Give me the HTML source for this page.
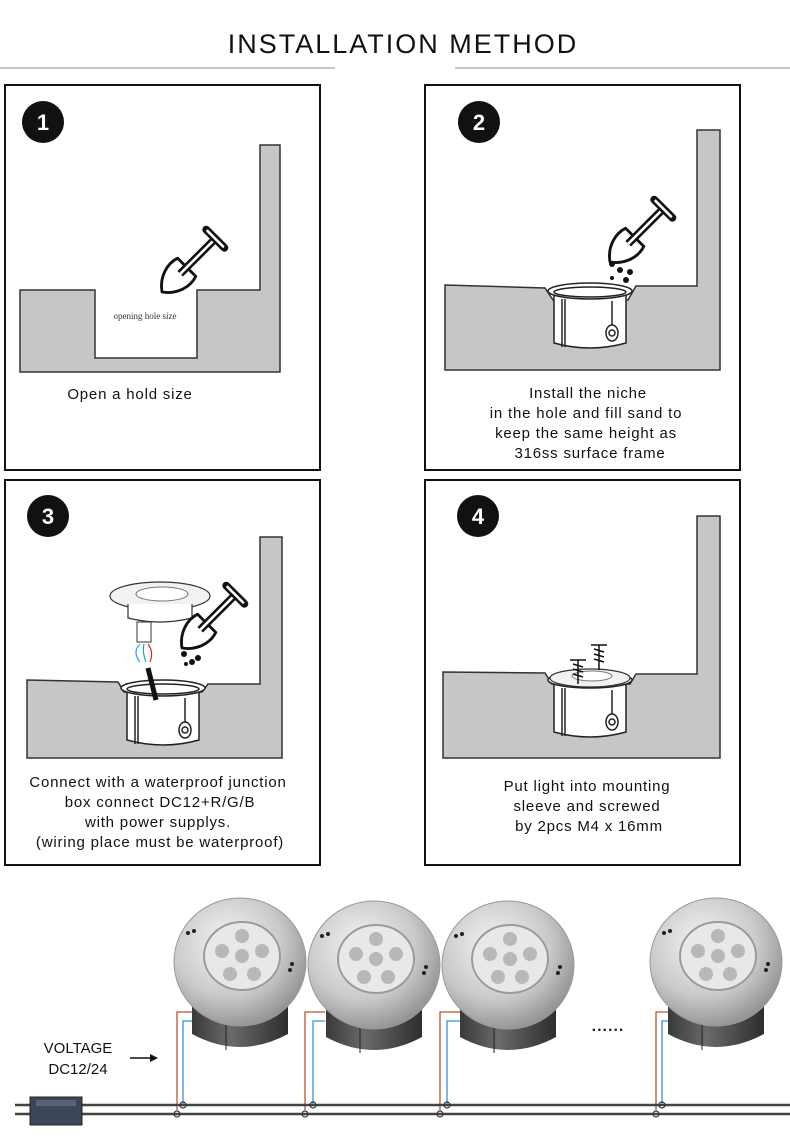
<!DOCTYPE html>
<html><head><meta charset="utf-8"><style>
html,body{margin:0;padding:0;background:#fff;}
svg{display:block;}
text{font-family:"Liberation Sans",sans-serif;}
</style></head><body>
<svg width="790" height="1148" viewBox="0 0 790 1148" xmlns="http://www.w3.org/2000/svg">
<defs>
  <g id="shovel" fill="#fff" stroke="#111" stroke-width="2.2" stroke-linejoin="round">
    <path d="M0,0 C-2,-12 4,-22 12,-26 L26,-12 C22,-4 12,2 0,0 Z"/>
    <path d="M14,-14 L40,-40" stroke-width="6"/>
    <path d="M14,-14 L40,-40" stroke="#fff" stroke-width="2"/>
    <path d="M34,-48 L48,-34" stroke-width="6" stroke-linecap="round"/>
    <path d="M35,-47 L47,-35" stroke="#fff" stroke-width="2" stroke-linecap="round"/>
  </g>
  <g id="niche" stroke="#222" stroke-width="1.5" fill="#fff">
    <path d="M-36,2 L-36,52 Q0,62 36,52 L36,2 Z"/>
    <ellipse cx="0" cy="0" rx="42" ry="8"/>
    <ellipse cx="0" cy="1" rx="36" ry="5" fill="none"/>
    <line x1="-28" y1="8" x2="-28" y2="56"/>
    <line x1="-25" y1="8" x2="-25" y2="56"/>
    <line x1="22" y1="10" x2="22" y2="36"/>
    <ellipse cx="22" cy="42" rx="6" ry="8"/>
    <circle cx="22" cy="42" r="3"/>
  </g>
  <radialGradient id="steel" cx="0.4" cy="0.35" r="0.7">
    <stop offset="0" stop-color="#f4f4f4"/><stop offset="0.6" stop-color="#c9c9c9"/><stop offset="1" stop-color="#8d8d8d"/>
  </radialGradient>
  <linearGradient id="body" x1="0" x2="1">
    <stop offset="0" stop-color="#3a3a3a"/><stop offset="0.4" stop-color="#6a6a6a"/><stop offset="1" stop-color="#2e2e2e"/>
  </linearGradient>
  <g id="lamp">
    <path d="M-48,20 L-48,72 Q0,98 48,72 L48,20 Z" fill="url(#body)"/>
    <line x1="-14" y1="30" x2="-14" y2="88" stroke="#222" stroke-width="1"/>
    <ellipse cx="0" cy="0" rx="66" ry="64" fill="url(#steel)" stroke="#999" stroke-width="1"/>
    <ellipse cx="2" cy="-6" rx="38" ry="34" fill="#e8e8e8" stroke="#9a9a9a" stroke-width="2"/>
    <circle cx="2" cy="-6" r="7" fill="#b8b8b8"/>
    <circle cx="2" cy="-26" r="7" fill="#b8b8b8"/>
    <circle cx="-18" cy="-11" r="7" fill="#b8b8b8"/>
    <circle cx="22" cy="-11" r="7" fill="#b8b8b8"/>
    <circle cx="-10" cy="12" r="7" fill="#b8b8b8"/>
    <circle cx="14" cy="12" r="7" fill="#b8b8b8"/>
    <circle cx="-52" cy="-29" r="2" fill="#222"/><circle cx="-46" cy="-31" r="2" fill="#222"/>
    <circle cx="50" cy="8" r="2" fill="#222"/><circle cx="52" cy="2" r="2" fill="#222"/>
  </g>
</defs>

<text x="403" y="53" font-size="27" text-anchor="middle" letter-spacing="2" fill="#111">INSTALLATION METHOD</text>
<line x1="0" y1="68" x2="335" y2="68" stroke="#888" stroke-width="1"/>
<line x1="455" y1="68" x2="790" y2="68" stroke="#888" stroke-width="1"/>

<g fill="none" stroke="#111" stroke-width="2">
  <rect x="5" y="85" width="315" height="385"/>
  <rect x="425" y="85" width="315" height="385"/>
  <rect x="5" y="480" width="315" height="385"/>
  <rect x="425" y="480" width="315" height="385"/>
</g>

<g font-size="22" font-weight="bold" fill="#fff" text-anchor="middle">
  <circle cx="43" cy="122" r="21" fill="#111"/><text x="43" y="130">1</text>
  <circle cx="479" cy="122" r="21" fill="#111"/><text x="479" y="130">2</text>
  <circle cx="48" cy="516" r="21" fill="#111"/><text x="48" y="524">3</text>
  <circle cx="478" cy="516" r="21" fill="#111"/><text x="478" y="524">4</text>
</g>

<!-- panel 1 -->
<path d="M20,290 L95,290 L95,358 L197,358 L197,290 L260,290 L260,145 L280,145 L280,372 L20,372 Z" fill="#c6c6c6" stroke="#333" stroke-width="1.5"/>
<text x="145" y="319" font-size="9" text-anchor="middle" fill="#333" style="font-family:'Liberation Serif',serif">opening hole size</text>
<use href="#shovel" transform="translate(162,292) scale(1.3)"/>
<text x="130" y="399" font-size="15" text-anchor="middle" fill="#111" letter-spacing="0.8">Open a hold size</text>

<!-- panel 2 -->
<path d="M445,285 L545,288 L553,300 L628,300 L636,286 L697,286 L697,130 L720,130 L720,370 L445,370 Z" fill="#c6c6c6" stroke="#333" stroke-width="1.5"/>
<use href="#niche" transform="translate(590,291)"/>
<use href="#shovel" transform="translate(610,262) scale(1.3)"/>
<g fill="#111"><circle cx="612" cy="264" r="3"/><circle cx="620" cy="270" r="3"/><circle cx="630" cy="272" r="3"/><circle cx="626" cy="280" r="3"/><circle cx="612" cy="278" r="2"/></g>
<g font-size="15" text-anchor="middle" fill="#111" letter-spacing="0.8">
  <text x="588" y="398">Install the niche</text>
  <text x="586" y="418">in the hole and fill sand to</text>
  <text x="586" y="438">keep the same height as</text>
  <text x="590" y="458">316ss surface frame</text>
</g>

<!-- panel 3 -->
<path d="M27,680 L118,682 L124,692 L202,692 L208,684 L260,684 L260,537 L282,537 L282,758 L27,758 Z" fill="#c6c6c6" stroke="#333" stroke-width="1.5"/>
<use href="#niche" transform="translate(163,688)"/>
<path d="M148,668 L156,700" stroke="#111" stroke-width="5"/>
<path d="M140,644 Q132,652 140,662" fill="none" stroke="#39f" stroke-width="1.2"/>
<path d="M144,644 Q142,652 146,662" fill="none" stroke="#2a9" stroke-width="1.2"/>
<path d="M148,644 Q154,652 150,662" fill="none" stroke="#d22" stroke-width="1.2"/>
<ellipse cx="160" cy="596" rx="50" ry="14" fill="#f2f2f2" stroke="#333" stroke-width="1.2"/>
<ellipse cx="162" cy="594" rx="26" ry="7" fill="#fff" stroke="#777"/>
<path d="M128,604 L128,618 Q160,626 192,618 L192,604" fill="#fff" stroke="#333" stroke-width="1.2"/>
<rect x="137" y="622" width="14" height="20" fill="#fff" stroke="#333"/>
<use href="#shovel" transform="translate(182,648) scale(1.3)"/>
<g fill="#111"><circle cx="184" cy="654" r="3"/><circle cx="192" cy="662" r="3"/><circle cx="198" cy="658" r="3"/><circle cx="186" cy="664" r="2"/></g>
<g font-size="15" text-anchor="middle" fill="#111" letter-spacing="0.8">
  <text x="158" y="787">Connect with a waterproof junction</text>
  <text x="160" y="807">box connect DC12+R/G/B</text>
  <text x="158" y="827">with power supplys.</text>
  <text x="160" y="847">(wiring place must be waterproof)</text>
</g>

<!-- panel 4 -->
<path d="M443,672 L545,673 L552,684 L630,684 L636,674 L697,674 L697,516 L720,516 L720,758 L443,758 Z" fill="#c6c6c6" stroke="#333" stroke-width="1.5"/>
<use href="#niche" transform="translate(590,680)"/>
<ellipse cx="590" cy="678" rx="40" ry="9" fill="#f2f2f2" stroke="#333" stroke-width="1.2"/>
<ellipse cx="592" cy="676" rx="20" ry="5" fill="#fff" stroke="#777"/>
<g stroke="#111" stroke-width="1.5" fill="#fff">
  <path d="M570,660 L586,660 M578,660 L578,684 M573,664 L583,667 M573,669 L583,672 M573,674 L583,677"/>
  <path d="M591,645 L607,645 M599,645 L599,670 M594,649 L604,652 M594,654 L604,657 M594,659 L604,662"/>
</g>
<g font-size="15" text-anchor="middle" fill="#111" letter-spacing="0.8">
  <text x="587" y="791">Put light into mounting</text>
  <text x="587" y="811">sleeve and screwed</text>
  <text x="589" y="831">by 2pcs M4 x 16mm</text>
</g>

<!-- bottom wiring -->
<g stroke-width="1.3" fill="none">
  <path d="M177,1110 L177,1012 L200,1012" stroke="#c0522a"/>
  <path d="M183,1105 L183,1021 L200,1021" stroke="#3b8fe0"/>
  <path d="M305,1110 L305,1012 L325,1012" stroke="#c0522a"/>
  <path d="M313,1105 L313,1021 L325,1021" stroke="#3b8fe0"/>
  <path d="M440,1110 L440,1012 L460,1012" stroke="#c0522a"/>
  <path d="M447,1105 L447,1021 L460,1021" stroke="#3b8fe0"/>
  <path d="M656,1110 L656,1012 L670,1012" stroke="#c0522a"/>
  <path d="M662,1105 L662,1021 L670,1021" stroke="#3b8fe0"/>
</g>
<use href="#lamp" transform="translate(240,962)"/>
<use href="#lamp" transform="translate(374,965)"/>
<use href="#lamp" transform="translate(508,965)"/>
<use href="#lamp" transform="translate(716,962)"/>
<line x1="15" y1="1105" x2="790" y2="1105" stroke="#444" stroke-width="2.5"/>
<line x1="15" y1="1114" x2="790" y2="1114" stroke="#444" stroke-width="2.5"/>
<g fill="none" stroke="#333" stroke-width="1.2">
  <circle cx="183" cy="1105" r="3"/><circle cx="177" cy="1114" r="3"/>
  <circle cx="313" cy="1105" r="3"/><circle cx="305" cy="1114" r="3"/>
  <circle cx="447" cy="1105" r="3"/><circle cx="440" cy="1114" r="3"/>
  <circle cx="662" cy="1105" r="3"/><circle cx="656" cy="1114" r="3"/>
</g>
<rect x="30" y="1097" width="52" height="28" fill="#3c4658" stroke="#222"/>
<rect x="36" y="1100" width="40" height="6" fill="#56627a"/>
<text x="608" y="1031" font-size="16" font-weight="bold" text-anchor="middle" fill="#222" letter-spacing="1">......</text>
<text x="78" y="1053" font-size="15" text-anchor="middle" fill="#111">VOLTAGE</text>
<text x="78" y="1074" font-size="15" text-anchor="middle" fill="#111">DC12/24</text>
<line x1="130" y1="1058" x2="150" y2="1058" stroke="#111" stroke-width="1.5"/>
<path d="M150,1054 L158,1058 L150,1062 Z" fill="#111"/>
</svg>
</body></html>
